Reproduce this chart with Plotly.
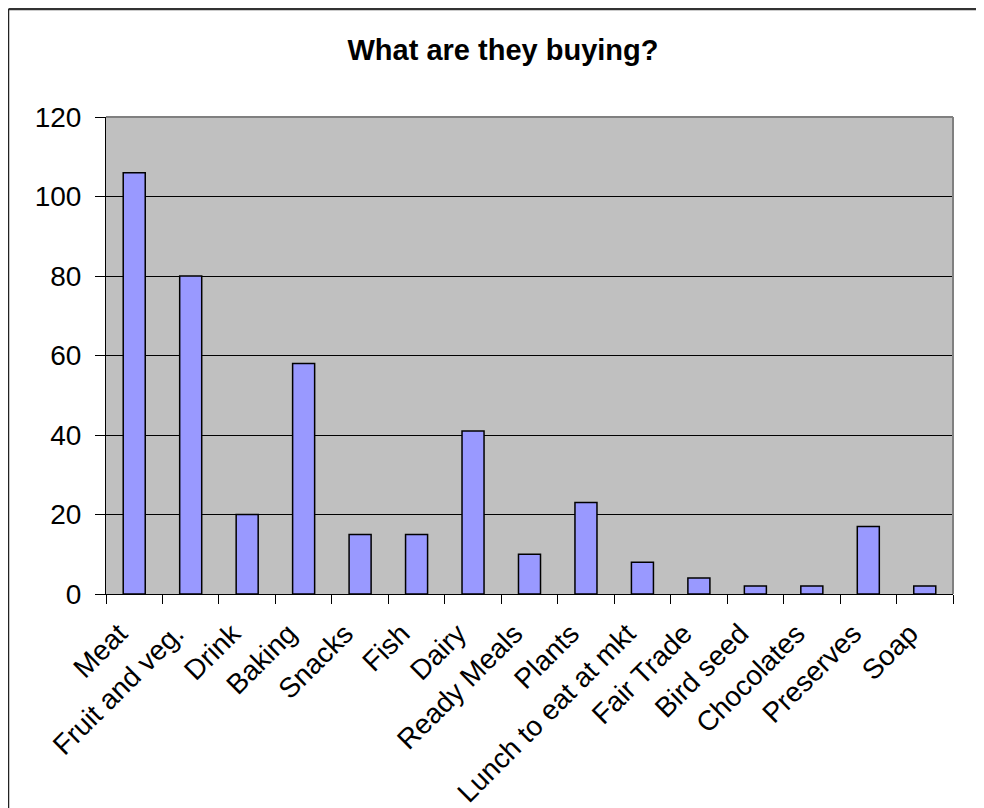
import plotly.graph_objects as go

categories = ["Meat", "Fruit and veg.", "Drink", "Baking", "Snacks", "Fish", "Dairy",
              "Ready Meals", "Plants", "Lunch to eat at mkt", "Fair Trade", "Bird seed",
              "Chocolates", "Preserves", "Soap"]
values = [106, 80, 20, 58, 15, 15, 41, 10, 23, 8, 4, 2, 2, 17, 2]
y_ticks = [0, 20, 40, 60, 80, 100, 120]
title_text = "What are they buying?"

FONT = "Liberation Sans, Arial, sans-serif"

fig = go.Figure(go.Bar(
    x=categories, y=values,
    marker=dict(color="#9999FF", line=dict(color="black", width=1.5)),
    width=0.39,
))

# page has an 8px body margin; figure sized to fit the window
W, H = 976, 800
L, R, T, B = 98, 31, 109, 214
pw = W - L - R
ph = H - T - B

fig.update_layout(
    width=W, height=H,
    margin=dict(l=L, r=R, t=T, b=B, autoexpand=False),
    paper_bgcolor="white",
    plot_bgcolor="#C0C0C0",
    showlegend=False,
    font=dict(family=FONT, color="black", size=28),
    title=dict(text="<b>" + title_text + "</b>", x=(495 - L) / pw, xref="paper", xanchor="center",
               y=1 - 42 / H, yanchor="middle",
               font=dict(family=FONT, size=29, color="black")),
    bargap=0.61,
)

fig.update_xaxes(
    type="category",
    automargin=False,
    tickangle=-45,
    tickson="boundaries",
    ticks="outside", ticklen=9, tickcolor="black", tickwidth=1,
    showline=True, linecolor="black", linewidth=1,
    showgrid=False,
    ticklabelstandoff=11,
    ticklabelshift=-15,
    tickfont=dict(family=FONT, size=28, color="black"),
)
fig.update_yaxes(
    automargin=False,
    range=[0, 120],
    tickvals=y_ticks,
    ticks="outside", ticklen=10, tickcolor="black", tickwidth=1,
    showline=True, linecolor="black", linewidth=1,
    showgrid=True, gridcolor="black", gridwidth=1,
    zeroline=False,
    ticklabelstandoff=8,
    tickfont=dict(family=FONT, size=28, color="black"),
)

# plot area grey border on top/right
fig.add_shape(type="line", xref="paper", yref="paper", x0=0, x1=1, y0=1, y1=1,
              line=dict(color="#808080", width=2))
fig.add_shape(type="line", xref="paper", yref="paper", x0=1, x1=1, y0=0, y1=1,
              line=dict(color="#808080", width=2))

# outer frame (top and left edges visible)
fig.add_shape(type="line", xref="paper", yref="paper",
              x0=(0.5 - L) / pw, x1=(W + 5 - L) / pw,
              y0=(H - B - 1) / ph, y1=(H - B - 1) / ph,
              line=dict(color="#333333", width=2.5))
fig.add_shape(type="line", xref="paper", yref="paper",
              x0=(0.5 - L) / pw, x1=(0.5 - L) / pw,
              y0=(H - B - 1) / ph, y1=(H - B - H - 5) / ph,
              line=dict(color="#222222", width=1.5))

fig.write_html("out.html")
